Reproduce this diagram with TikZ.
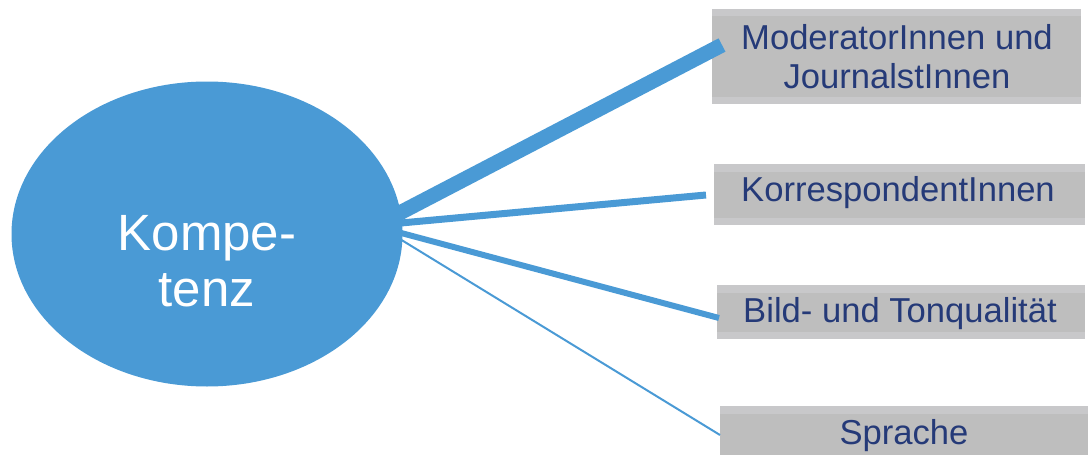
\documentclass[tikz,border=0pt]{standalone}
\usepackage{fontspec}
\setmainfont{Liberation Sans}
\usetikzlibrary{shapes.geometric}
\definecolor{ellblue}{HTML}{4A9AD5}
\definecolor{txtblue}{HTML}{253A78}
\definecolor{boxout}{HTML}{C8C8CA}
\definecolor{boxin}{HTML}{BEBEBE}
\begin{document}
\begin{tikzpicture}[x=1pt,y=-1pt,
  conn/.style={draw=ellblue,line cap=butt},
  lbl/.style={text=txtblue,font=\fontsize{34.6}{39}\selectfont,inner sep=0pt,align=center},
  outerbox/.style={fill=boxout,draw=none},
  innerbox/.style={fill=boxin,draw=none}]
\useasboundingbox (0,0) rectangle (1088,455);
% boxes
\fill[boxout] (712,9) rectangle (1081,104);
\fill[boxin] (712,16) rectangle (1081,97);
\fill[boxout] (714,164) rectangle (1085,225);
\fill[boxin] (714,172) rectangle (1085,218);
\fill[boxout] (717,285) rectangle (1085,339);
\fill[boxin] (717,293) rectangle (1085,332);
\fill[boxout] (720,406) rectangle (1088,455);
\fill[boxin] (720,414) rectangle (1088,455);
\node[lbl] (b1) at (897,57) {ModeratorInnen und\\JournalstInnen};
\node[lbl] (b2) at (898,193) {KorrespondentInnen};
\node[lbl] (b3) at (900,314) {Bild- und Tonqualität};
\node[lbl] (b4) at (904,436) {Sprache};
% connector end points
\coordinate (s1) at (390,218);
\coordinate (e1) at (722,45);
\coordinate (s2) at (390,224);
\coordinate (e2) at (706,195);
\coordinate (s3) at (390,230);
\coordinate (e3) at (719,318);
\coordinate (s4) at (395,236);
\coordinate (e4) at (720,435);
\draw[conn,line width=15] (s1) -- (e1);
\draw[conn,line width=7] (s2) -- (e2);
\draw[conn,line width=6] (s3) -- (e3);
\draw[conn,line width=2] (s4) -- (e4);
% ellipse
\node[ellipse,fill=ellblue,minimum width=391,minimum height=305,inner sep=0pt] (k) at (207,234) {};
\node[text=white,font=\fontsize{51}{56}\selectfont,align=center,inner sep=0pt] (kt) at (207,261) {Kompe-\\tenz};
\end{tikzpicture}
\end{document}
